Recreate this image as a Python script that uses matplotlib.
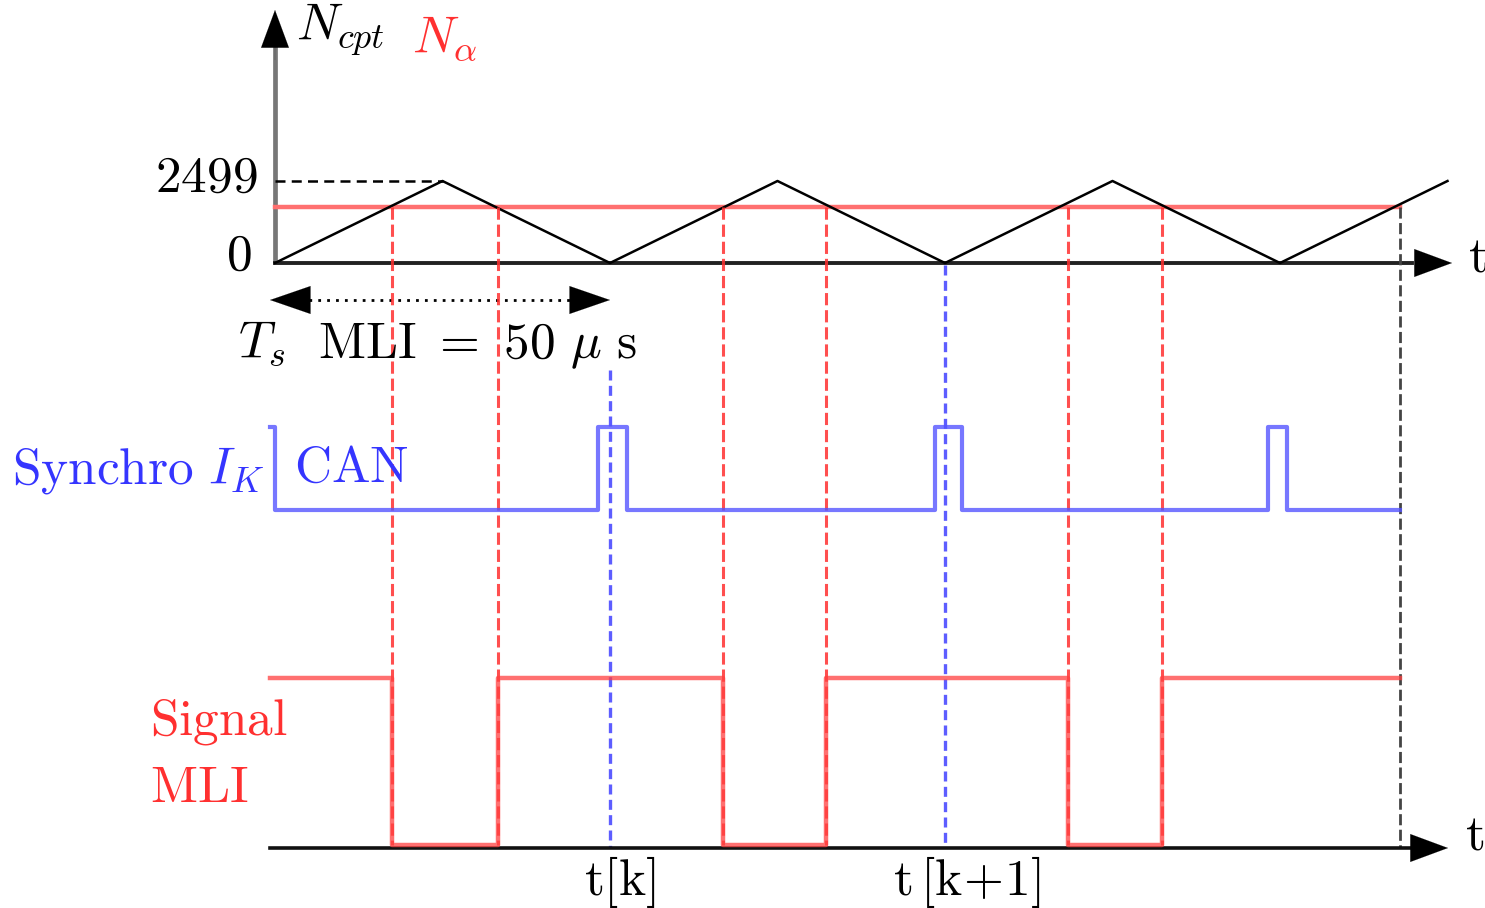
import numpy as np
import matplotlib
matplotlib.use("Agg")
import matplotlib.pyplot as plt

plt.rcParams['mathtext.fontset'] = 'cm'

# --- data (time in microseconds) ---
T_PWM = 50.0                 # PWM period
N_MAX = 2499                 # counter top value
N_ALPHA = 1720               # compare value
counter_t = [0, 25, 50, 75, 100, 125, 150, 175]
counter_n = [0, 2499, 0, 2499, 0, 2499, 0, 2499]

# compare crossings (red dashed), last one drawn grey
cross_t = [17.46, 33.28, 66.87, 82.24, 118.36, 132.39]
cross_last = 167.9

# synchro CAN signal (steps-post)
sync_t = [-0.8, 0.0, 48.2, 52.5, 98.5, 102.5, 148.2, 151.0, 167.9]
sync_lvl = [1, 0, 1, 0, 1, 0, 1, 0, 0]

# PWM output signal (steps-post)
mli_t = [-0.75, 17.46, 33.28, 66.87, 82.24, 118.36, 132.39, 167.9]
mli_lvl = [1, 0, 1, 0, 1, 0, 1, 1]

sample_t = [50.0, 100.0]
sample_lbl = [r'$\mathrm{t[k]}$', r'$\mathrm{t\,[k\!+\!1]}$']

# --- layout: x in us, y in pixel rows ---
X0, PX_US = 275.0, 6.7
def px(x):
    return (x - X0) / PX_US

def row_cpt(n):
    return 263 - 82 * np.asarray(n) / N_MAX

def row_sync(v):
    return 510 - 83 * np.asarray(v)

def row_mli(v):
    return 845 - 167 * np.asarray(v)

RED = '#ff3030'
BLUE = '#3535ff'
FS = 37
label_dx = [1.5, 3.3]

fig = plt.figure(figsize=(14.85, 9.08), dpi=100)
ax = fig.add_axes([0, 0, 1, 1])
ax.set_xlim(px(0), px(1485))
ax.set_ylim(908, 0)
ax.axis('off')

def arrow(x0, y0, x1, y1, color='black', lw=0.1, hl=27, hw=10):
    ax.annotate('', xy=(x1, y1), xytext=(x0, y0),
                arrowprops=dict(arrowstyle=f'-|>,head_length={hl},head_width={hw}',
                                mutation_scale=1, color=color, lw=lw,
                                shrinkA=0, shrinkB=0))

# counter panel axes
ax.plot([0, 0], [263, 45], color='#777777', lw=3.4, solid_capstyle='butt')
arrow(0, 60, 0, 10)
ax.plot([0, px(1412)], [263, 263], color='#222222', lw=2.8)
arrow(px(1420), 263, px(1452), 263)
ax.text(px(1468), 258, r'$\mathrm{t}$', fontsize=FS, ha='left', va='center')

ax.plot([0, counter_t[1]], row_cpt([N_MAX, N_MAX]), color='black', lw=1.8, ls=(0, (4, 2.5)))
ax.text(px(258), row_cpt(N_MAX) - 3, r'$2499$', fontsize=FS, ha='right', va='center')
ax.text(px(252), 256, r'$0$', fontsize=FS, ha='right', va='center')
ax.text(px(296), 30, r'$N_{cpt}$', fontsize=FS, ha='left', va='center')
ax.text(px(412), 38, r'$N_\alpha$', fontsize=FS, ha='left', va='center', color=RED)

ax.plot([0, cross_last], row_cpt([N_ALPHA, N_ALPHA]), color='#ff7070', lw=3.2)
ax.plot(counter_t, row_cpt(counter_n), color='black', lw=1.8)

# period arrow
ax.plot([px(300), px(580)], [300, 300], color='black', lw=2, ls=(0, (1, 2.2)))
arrow(px(312), 300, px(270), 300, hl=29, hw=10)
arrow(px(568), 300, px(610), 300, hl=29, hw=10)
ax.text(px(437), 345, r'$T_s\ \ \mathrm{MLI}\ =\ \mathrm{50}\ \mu\ \mathrm{s}$',
        fontsize=FS, ha='center', va='center')

# dashed crossings
for t in cross_t:
    ax.plot([t, t], [row_cpt(N_ALPHA), 845], color=RED, alpha=0.85, lw=2.2, ls=(0, (4, 1.6)))
ax.plot([cross_last, cross_last], [row_cpt(N_ALPHA), 848], color='#444444', lw=2.0, ls=(0, (4, 1.6)))

# sampling instants
ax.plot([sample_t[0]] * 2, [370, 848], color=BLUE, alpha=0.8, lw=2.4, ls=(0, (3, 1.6)))
ax.plot([sample_t[1]] * 2, [265, 848], color=BLUE, alpha=0.8, lw=2.4, ls=(0, (3, 1.6)))
for t, lbl, dx in zip(sample_t, sample_lbl, label_dx):
    ax.text(t + dx, 882, lbl, fontsize=FS, ha='center', va='center')

# synchro signal
ax.plot(sync_t, row_sync(sync_lvl), drawstyle='steps-post', color='#5555ff', alpha=0.8, lw=3)
ax.text(px(12), 470, r'$\mathrm{Synchro}\ I_K$', fontsize=FS, ha='left', va='center', color=BLUE)
ax.text(px(294), 468, r'$\mathrm{CAN}$', fontsize=FS, ha='left', va='center', color=BLUE)

# PWM signal and bottom axis
ax.plot([px(270), px(1410)], [848, 848], color='#111111', lw=2.6)
arrow(px(1405), 848, px(1448), 848)
ax.text(px(1465), 835, r'$\mathrm{t}$', fontsize=FS, ha='left', va='center')
ax.plot(mli_t, row_mli(mli_lvl), drawstyle='steps-post', color='#ff4040', alpha=0.75, lw=3.2)
ax.text(px(150), 722, r'$\mathrm{Signal}$', fontsize=FS, ha='left', va='center', color=RED)
ax.text(px(150), 788, r'$\mathrm{MLI}$', fontsize=FS, ha='left', va='center', color=RED)

fig.savefig('out.png', dpi=100)
